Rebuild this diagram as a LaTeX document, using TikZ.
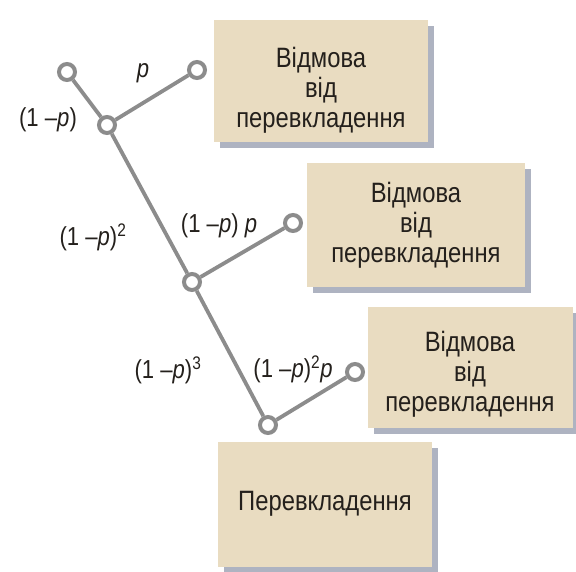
\documentclass[tikz,border=0pt]{standalone}
\usepackage{fontspec}
\setmainfont{Liberation Sans}
\newfontfamily\narrowsans[FakeStretch=0.85]{Liberation Sans}
\usepackage{tikz}
\usetikzlibrary{shadows}
\definecolor{boxtan}{RGB}{233,220,193}
\definecolor{shadowgray}{RGB}{160,166,182}
\definecolor{linegray}{RGB}{140,140,140}
\definecolor{textdark}{RGB}{36,32,28}
\tikzset{
  outbox/.style={rectangle, fill=boxtan, align=center,
    minimum width=214pt, minimum height=122pt, inner sep=2pt,
    font=\narrowsans\fontsize{28}{30}\selectfont, text=textdark,
    drop shadow={shadow xshift=6pt, shadow yshift=-6pt,
      fill=shadowgray, opacity=0.85}},
  knot/.style={circle, draw=linegray, fill=white,
    minimum size=16pt, inner sep=0pt, line width=4pt},
  branch/.style={line width=3.8pt, color=linegray},
  prob/.style={font=\narrowsans\fontsize{26}{28}\selectfont, text=textdark, inner sep=1pt}
}

\begin{document}
\begin{tikzpicture}[x=1pt, y=-1pt]
  \useasboundingbox (0,0) rectangle (576,571);
  % outcome boxes
  \node[outbox] (refuse1) at (321,81) {\rule{0pt}{38pt}Відмова\\від\\перевкладення};
  \node[outbox, minimum width=218pt, minimum height=124pt] (refuse2) at (416,225) {Відмова\\від\\перевкладення};
  \node[outbox, minimum width=205pt, minimum height=121pt] (refuse3) at (470,367) {\rule{0pt}{34pt}Відмова\\від\\перевкладення};
  \node[outbox, minimum height=125pt] (transfer) at (325,504) {Перевкладення};
  % tree knots
  \node[knot] (start) at (67,72) {};
  \node[knot] (k1) at (107,125) {};
  \node[knot] (e1) at (197,70) {};
  \node[knot] (k2) at (192,282) {};
  \node[knot] (e2) at (293,223) {};
  \node[knot] (k3) at (268,425) {};
  \node[knot] (e3) at (355,372) {};
  \draw[branch] (start) -- (k1);
  \draw[branch] (k1) -- (k2);
  \draw[branch] (k2) -- (k3);
  \draw[branch] (k1) -- (e1);
  \draw[branch] (k2) -- (e2);
  \draw[branch] (k3) -- (e3);
  % probabilities
  \node[prob] (p1) at (143,73) {\textit{p}};
  \node[prob] (q1) at (48,120) {(1 –\textit{p})};
  \node[prob] (q2) at (93,237) {(1 –\textit{p})\textsuperscript{2}};
  \node[prob] (p2) at (219,226) {(1 –\textit{p}) \textit{p}};
  \node[prob] (q3) at (168,370) {(1 –\textit{p})\textsuperscript{3}};
  \node[prob] (p3) at (293,369) {(1 –\textit{p})\textsuperscript{2}\textit{p}};
\end{tikzpicture}
\end{document}
